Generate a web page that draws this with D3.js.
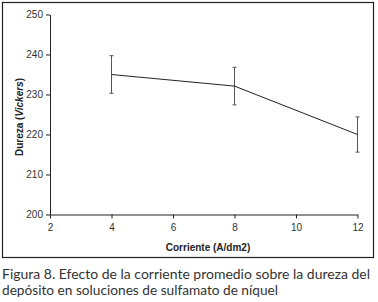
<!DOCTYPE html>
<html>
<head>
<meta charset="utf-8">
<script src="https://cdn.jsdelivr.net/npm/d3@7"></script>
<style>
  body { margin: 0; background: #fff; }
  svg { display: block; }
</style>
</head>
<body>
<div class="canva"></div>
<script>
// data
const corriente = [4, 8, 12];
const dureza = [235, 232.1, 220];
const errores = [4.7, 4.7, 4.4];
const xTicks = [2, 4, 6, 8, 10, 12];
const yTicks = [200, 210, 220, 230, 240, 250];
const caption = [
  "Figura 8. Efecto de la corriente promedio sobre la dureza del",
  "depósito en soluciones de sulfamato de níquel"
];
const captionWidths = [368, 276];

const width = 378, height = 302;
const margin = { top: 14.5, right: 20.5, bottom: 87.5, left: 50 };

const svg = d3.select(".canva").append("svg")
    .attr("width", width)
    .attr("height", height)
    .attr("viewBox", [0, 0, width, height]);

// outer frame
svg.append("rect")
    .attr("x", 2.5).attr("y", 2.5)
    .attr("width", 371).attr("height", 255)
    .attr("fill", "none")
    .attr("stroke", "#222")
    .attr("stroke-width", 1.2);

const x = d3.scaleLinear([2, 12], [margin.left, width - margin.right]);
const y = d3.scaleLinear([200, 250], [height - margin.bottom, margin.top]);

svg.append("g")
    .attr("transform", `translate(0, ${y(200)})`)
    .call(d3.axisBottom(x).tickValues(xTicks).tickSize(4).tickSizeOuter(0).tickPadding(5))
    .call(g => g.selectAll("text").attr("fill", "#333").attr("font-size", 10))
    .call(g => g.selectAll("line, path").attr("stroke", "#222"))
    .attr("font-family", "Liberation Sans, Arial, sans-serif");

svg.append("g")
    .attr("transform", `translate(${x(2)}, 0)`)
    .call(d3.axisLeft(y).tickValues(yTicks).tickSize(4).tickSizeOuter(0).tickPadding(3))
    .call(g => g.selectAll("text").attr("fill", "#333").attr("font-size", 10))
    .call(g => g.selectAll("line, path").attr("stroke", "#222"))
    .attr("font-family", "Liberation Sans, Arial, sans-serif");

const data = corriente.map((c, i) => ({ c, v: dureza[i], e: errores[i] }));

// error bars
const eb = svg.append("g").attr("stroke", "#555").attr("stroke-width", 1);
eb.selectAll(".bar").data(data).join("line")
    .attr("x1", d => x(d.c)).attr("x2", d => x(d.c))
    .attr("y1", d => y(d.v - d.e)).attr("y2", d => y(d.v + d.e));
eb.selectAll(".capTop").data(data).join("line")
    .attr("x1", d => x(d.c) - 2).attr("x2", d => x(d.c) + 2)
    .attr("y1", d => y(d.v + d.e)).attr("y2", d => y(d.v + d.e));
eb.selectAll(".capBot").data(data).join("line")
    .attr("x1", d => x(d.c) - 2).attr("x2", d => x(d.c) + 2)
    .attr("y1", d => y(d.v - d.e)).attr("y2", d => y(d.v - d.e));

const line = d3.line().x(d => x(d.c)).y(d => y(d.v));
svg.append("path")
    .attr("fill", "none")
    .attr("stroke", "#222")
    .attr("stroke-width", 1)
    .attr("d", line(data));

// axis titles
svg.append("text")
    .attr("x", 208).attr("y", 251)
    .attr("text-anchor", "middle")
    .attr("font-family", "Liberation Sans, Arial, sans-serif")
    .attr("font-size", 10)
    .attr("font-weight", "bold")
    .attr("fill", "#222")
    .text("Corriente (A/dm2)");

const yt = svg.append("text")
    .attr("transform", "translate(23, 117) rotate(-90)")
    .attr("text-anchor", "middle")
    .attr("font-family", "Liberation Sans, Arial, sans-serif")
    .attr("font-size", 10)
    .attr("font-weight", "bold")
    .attr("fill", "#222");
yt.append("tspan").text("Dureza (");
yt.append("tspan").attr("font-style", "italic").text("Vickers");
yt.append("tspan").text(")");

// caption
svg.append("g")
    .selectAll("text").data(caption).join("text")
    .attr("x", 2)
    .attr("y", (d, i) => 278.5 + i * 16.5)
    .attr("font-family", "Lato, sans-serif")
    .attr("font-size", 14)
    .attr("fill", "#333")
    .attr("textLength", (d, i) => captionWidths[i])
    .attr("lengthAdjust", "spacingAndGlyphs")
    .text(d => d);
</script>
</body>
</html>
